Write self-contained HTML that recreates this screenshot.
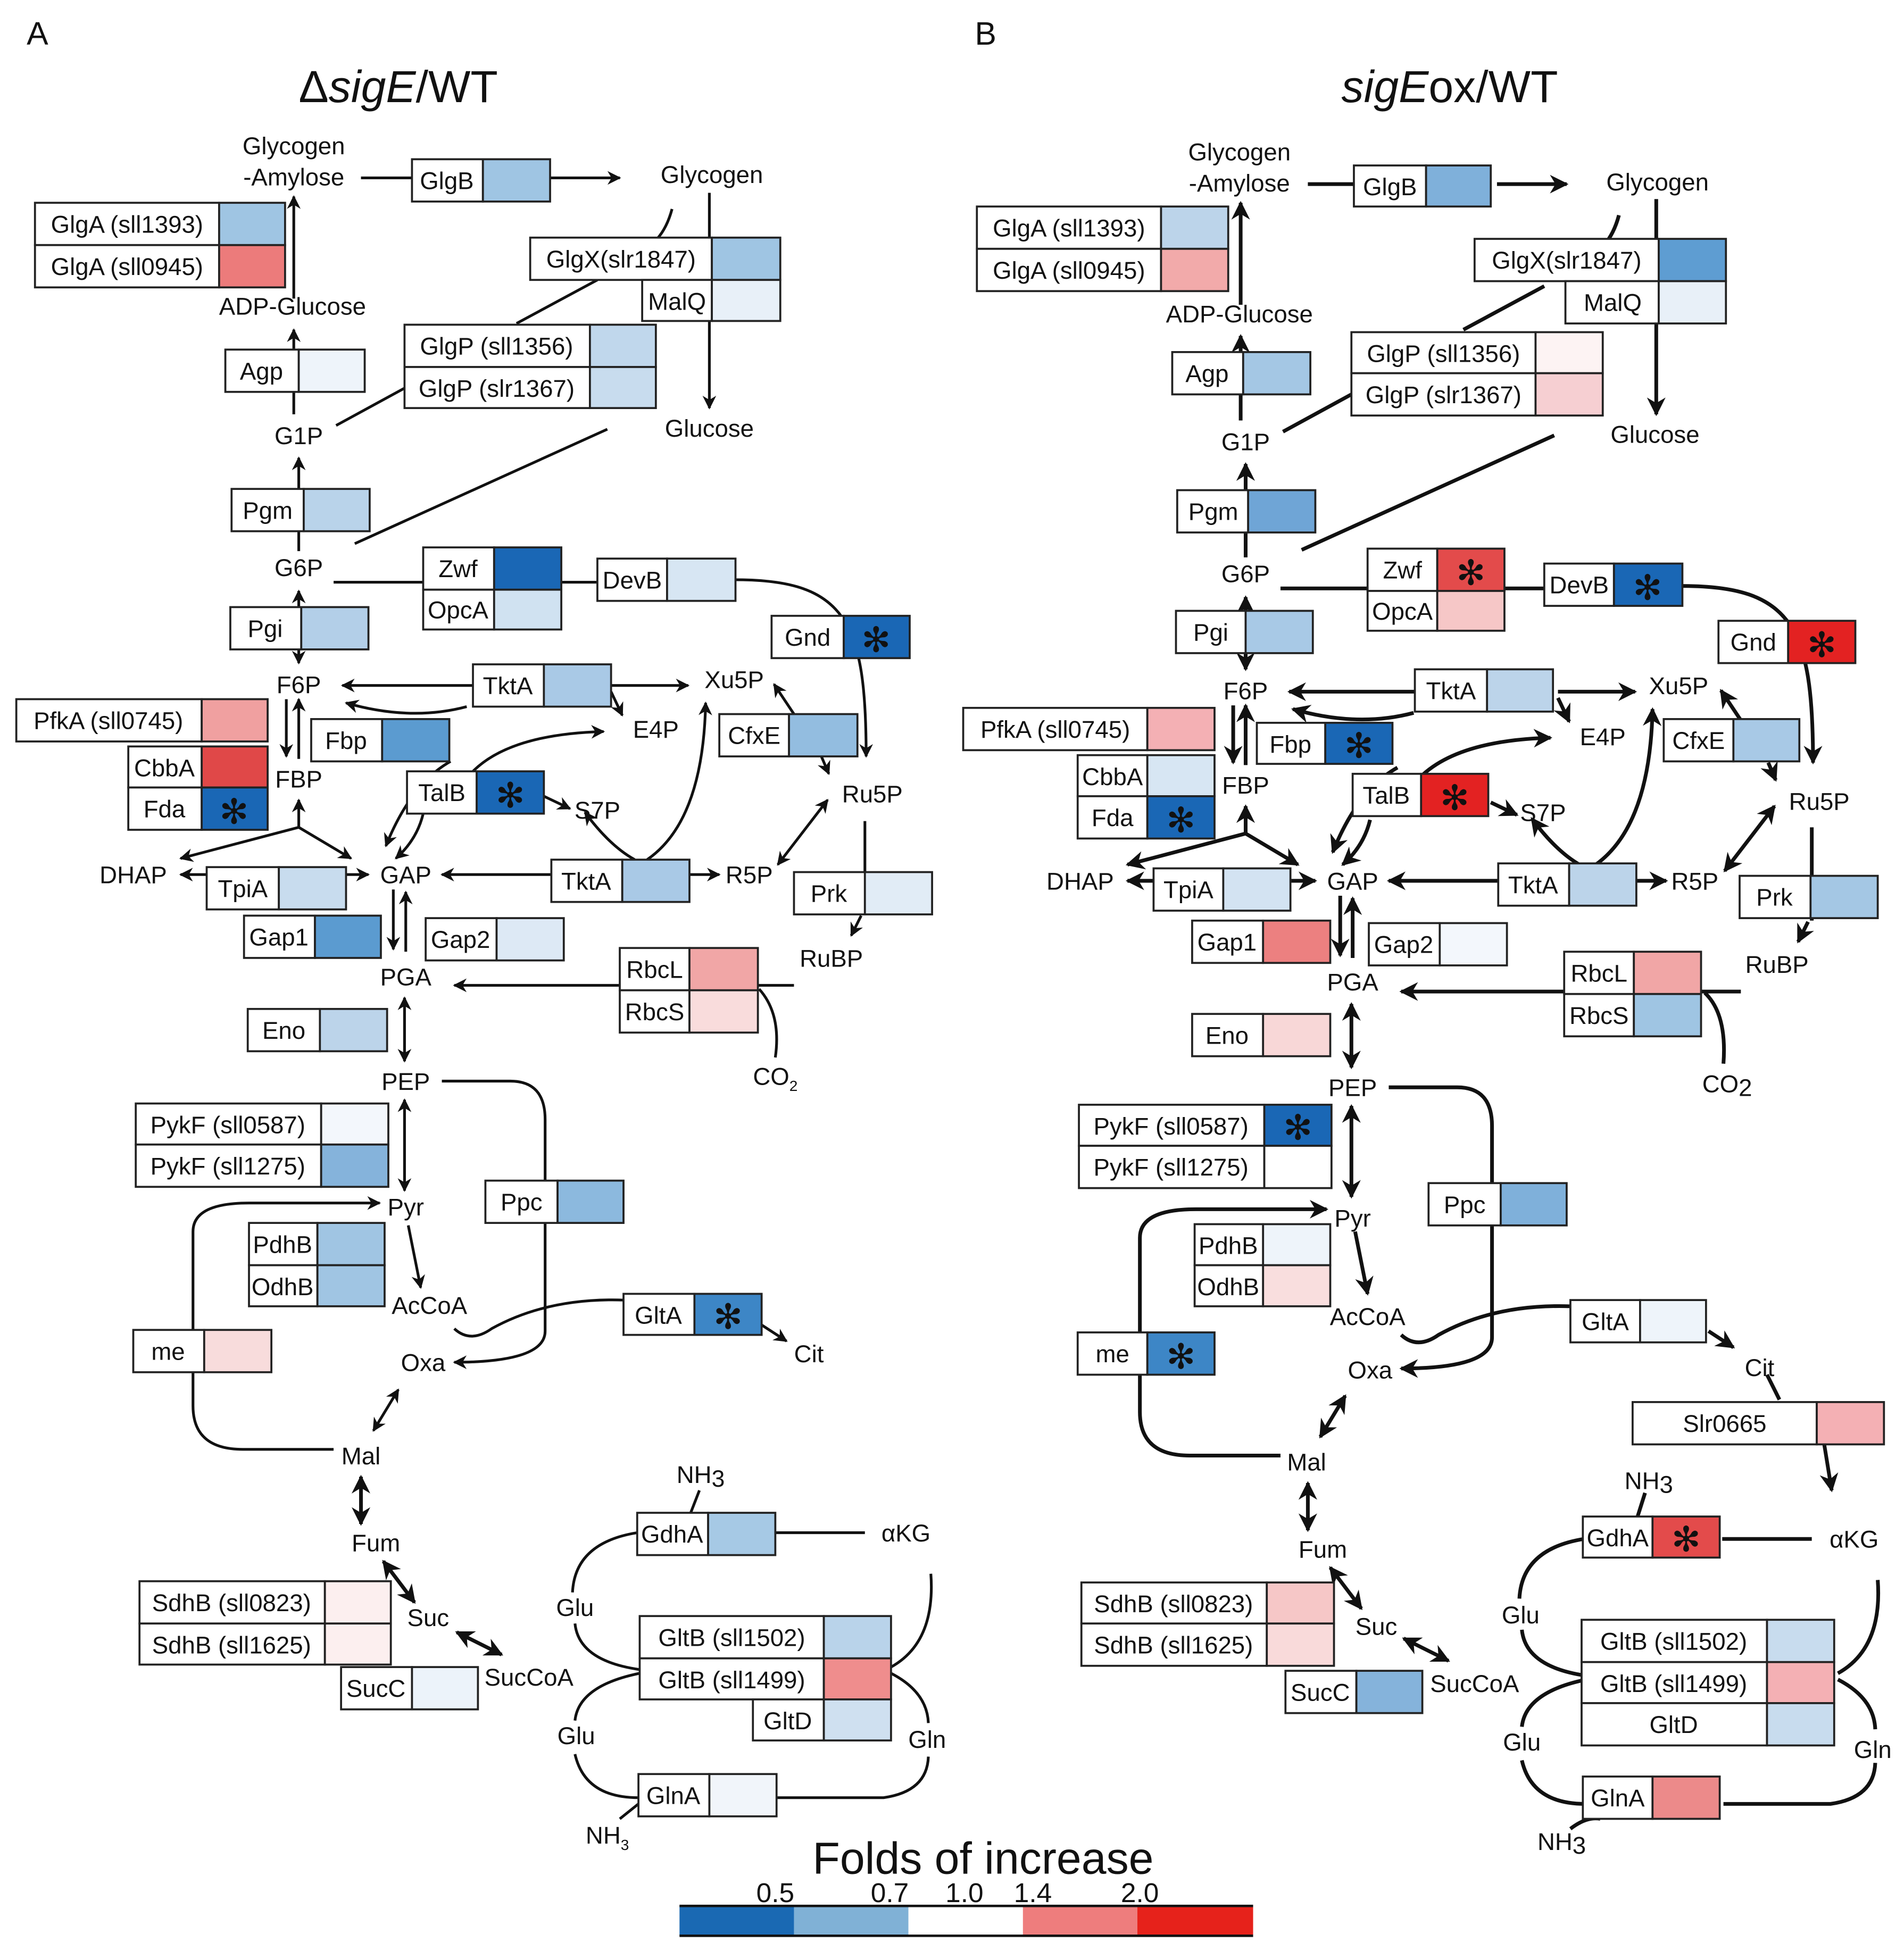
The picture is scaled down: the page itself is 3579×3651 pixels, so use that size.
<!DOCTYPE html>
<html><head><meta charset="utf-8"><style>
html,body{margin:0;padding:0;background:#fff}
svg{display:block}
text{font-family:"Liberation Sans",Arial,sans-serif;font-size:19.5px;fill:#111;text-anchor:middle}
.b{stroke:#222;stroke-width:1.6;fill:#fff}
.c{stroke:#222;stroke-width:1.6}
.st{font-size:28px;font-weight:bold;fill:#111;font-family:"DejaVu Sans",sans-serif}
.ln{fill:none;stroke:#111;stroke-width:2.2}
.lnB{fill:none;stroke:#111;stroke-width:3}
</style></head><body>
<svg width="3579" height="3651" viewBox="0 0 1530 1561" xmlns="http://www.w3.org/2000/svg">
<defs>
<marker id="ar" viewBox="0 0 10 10" refX="9" refY="5" markerWidth="5" markerHeight="5" orient="auto-start-reverse"><path d="M0,0 L10,5 L0,10 L3,5 z" fill="#111"/></marker>
<g id="con">
<path d="M290,143 H331 M442,143 H498" marker-end="url(#ar)"/>
<path d="M236,240 V158" marker-end="url(#ar)"/>
<path d="M236,333 V265" marker-end="url(#ar)"/>
<path d="M270,342 L325,312"/>
<path d="M540,168 Q536,183 528,192"/>
<path d="M570,155 V328" marker-end="url(#ar)"/>
<path d="M415,260 L480,225"/>
<path d="M240,443 V368" marker-end="url(#ar)"/>
<path d="M285,437 L488,345"/>
<path d="M268,468 H480"/>
<path d="M591,466 C680,466 696,500 696,608" marker-end="url(#ar)"/>
<path d="M240,475 V533" marker-start="url(#ar)" marker-end="url(#ar)"/>
<path d="M230,562 V608" marker-end="url(#ar)"/>
<path d="M240,610 V562" marker-end="url(#ar)"/>
<path d="M380,551 H275" marker-end="url(#ar)"/>
<path d="M491,551 H553" marker-end="url(#ar)"/>
<path d="M491,556 L500,575" marker-end="url(#ar)"/>
<path d="M240,665 V643" marker-end="url(#ar)"/>
<path d="M240,665 L145,690" marker-end="url(#ar)"/>
<path d="M240,665 L282,690" marker-end="url(#ar)"/>
<path d="M145,703 H296" marker-start="url(#ar)" marker-end="url(#ar)"/>
<path d="M375,568 Q330,580 278,565" marker-end="url(#ar)"/>
<path d="M362,612 Q330,630 310,680" marker-end="url(#ar)"/>
<path d="M380,620 Q410,590 485,588" marker-end="url(#ar)"/>
<path d="M437,640 L458,650" marker-end="url(#ar)"/>
<path d="M340,654 Q335,675 318,690" marker-end="url(#ar)"/>
<path d="M443,703 H355" marker-end="url(#ar)"/>
<path d="M554,703 H578" marker-end="url(#ar)"/>
<path d="M520,691 Q565,660 567,565" marker-end="url(#ar)"/>
<path d="M510,691 Q490,680 470,653" marker-end="url(#ar)"/>
<path d="M638,574 L622,550" marker-end="url(#ar)"/>
<path d="M660,608 L666,622" marker-end="url(#ar)"/>
<path d="M625,695 L665,643" marker-start="url(#ar)" marker-end="url(#ar)"/>
<path d="M695,660 V735"/>
<path d="M692,736 L684,752" marker-end="url(#ar)"/>
<path d="M638,792 H365" marker-end="url(#ar)"/>
<path d="M316,715 V763" marker-end="url(#ar)"/>
<path d="M326,765 V717" marker-end="url(#ar)"/>
<path d="M325,802 V853" marker-start="url(#ar)" marker-end="url(#ar)"/>
<path d="M325,884 V957" marker-start="url(#ar)" marker-end="url(#ar)"/>
<path d="M355,869 H410 Q438,869 438,900 V1070 Q438,1095 365,1095" marker-end="url(#ar)"/>
<path d="M328,985 L338,1035" marker-end="url(#ar)"/>
<path d="M268,1165 H195 Q155,1165 155,1130 V990 Q155,967 200,967 H305" marker-end="url(#ar)"/>
<path d="M365,1068 Q378,1080 395,1068 Q440,1043 501,1045"/>
<path d="M612,1065 L632,1078" marker-end="url(#ar)"/>
<path d="M320,1117 L300,1150" marker-start="url(#ar)" marker-end="url(#ar)"/>
<path d="M290,1187 V1225" marker-start="url(#ar)" marker-end="url(#ar)" stroke-width="3"/>
<path d="M308,1255 L333,1288" marker-start="url(#ar)" marker-end="url(#ar)" stroke-width="3"/>
<path d="M367,1312 L403,1330" marker-start="url(#ar)" marker-end="url(#ar)" stroke-width="3"/>
<path d="M623,1232 H695"/>
<path d="M512,1232 Q462,1240 460,1280"/>
<path d="M462,1305 Q465,1335 514,1342"/>
<path d="M716,1340 Q752,1320 748,1265"/>
<path d="M514,1345 Q465,1355 462,1383"/>
<path d="M716,1345 Q745,1360 746,1385"/>
<path d="M462,1410 Q470,1445 513,1445"/>
<path d="M624,1445 H710 Q745,1440 746,1412"/>
</g>
</defs>

<!-- headers -->
<text x="30" y="36" style="font-size:26px">A</text>
<text x="792" y="36" style="font-size:26px">B</text>
<text x="320" y="82" style="font-size:36px">Δ<tspan font-style="italic">sigE</tspan>/WT</text>
<text x="1165" y="82" style="font-size:36px"><tspan font-style="italic">sigE</tspan>ox/WT</text>

<!-- connectors -->
<use href="#con" class="ln"/>
<use href="#con" class="lnB" transform="translate(761,5)"/>
<!-- A extra -->
<path class="ln" d="M610,795 Q628,815 623,850"/>
<path class="ln" d="M562,1198 L555,1216"/>
<path class="ln" d="M498,1462 L513,1450"/>
<!-- B extra -->
<path class="lnB" d="M1370,798 Q1388,815 1385,855"/>
<path class="lnB" d="M1322,1200 L1316,1219"/>
<path class="lnB" d="M1262,1470 Q1275,1460 1286,1462"/>
<path class="lnB" d="M1420,1105 L1430,1125"/>
<path class="lnB" d="M1466,1161 L1472,1198" marker-end="url(#ar)"/>

<!-- ========== Panel A boxes ========== -->
<g>
<rect class="b" x="331" y="128" width="57" height="34"/><rect class="c" x="388" y="128" width="54" height="34" fill="#9fc5e3"/><text x="359" y="152">GlgB</text>
<rect class="b" x="28" y="163" width="148" height="34"/><rect class="c" x="176" y="163" width="53" height="34" fill="#9fc5e3"/><text x="102" y="187">GlgA (sll1393)</text>
<rect class="b" x="28" y="197" width="148" height="34"/><rect class="c" x="176" y="197" width="53" height="34" fill="#ec7b7b"/><text x="102" y="221">GlgA (sll0945)</text>
<rect class="b" x="426" y="191" width="146" height="34"/><rect class="c" x="572" y="191" width="55" height="34" fill="#9fc5e3"/><text x="499" y="215">GlgX(slr1847)</text>
<rect class="b" x="516" y="225" width="56" height="33"/><rect class="c" x="572" y="225" width="55" height="33" fill="#e8f0f8"/><text x="544" y="249">MalQ</text>
<rect class="b" x="181" y="281" width="59" height="34"/><rect class="c" x="240" y="281" width="53" height="34" fill="#eef4fa"/><text x="210" y="305">Agp</text>
<rect class="b" x="325" y="261" width="149" height="34"/><rect class="c" x="474" y="261" width="53" height="34" fill="#c0d7ec"/><text x="399" y="285">GlgP (sll1356)</text>
<rect class="b" x="325" y="295" width="149" height="33"/><rect class="c" x="474" y="295" width="53" height="33" fill="#c8dcee"/><text x="399" y="319">GlgP (slr1367)</text>
<rect class="b" x="186" y="393" width="58" height="34"/><rect class="c" x="244" y="393" width="53" height="34" fill="#b9d3ea"/><text x="215" y="417">Pgm</text>
<rect class="b" x="340" y="440" width="57" height="34"/><rect class="c" x="397" y="440" width="54" height="34" fill="#1a67b5"/><text x="368" y="464">Zwf</text>
<rect class="b" x="340" y="474" width="57" height="32"/><rect class="c" x="397" y="474" width="54" height="32" fill="#d0e2f1"/><text x="368" y="497">OpcA</text>
<rect class="b" x="480" y="449" width="56" height="34"/><rect class="c" x="536" y="449" width="55" height="34" fill="#d7e6f3"/><text x="508" y="473">DevB</text>
<rect class="b" x="620" y="495" width="58" height="34"/><rect class="c" x="678" y="495" width="53" height="34" fill="#1a67b5"/><text x="649" y="519">Gnd</text><text class="st" x="704" y="524">✻</text>
<rect class="b" x="185" y="488" width="57" height="34"/><rect class="c" x="242" y="488" width="54" height="34" fill="#b3cfe8"/><text x="213" y="512">Pgi</text>
<rect class="b" x="13" y="562" width="149" height="34"/><rect class="c" x="162" y="562" width="53" height="34" fill="#f0a0a0"/><text x="87" y="586">PfkA (sll0745)</text>
<rect class="b" x="103" y="600" width="59" height="33"/><rect class="c" x="162" y="600" width="53" height="33" fill="#e04848"/><text x="132" y="624">CbbA</text>
<rect class="b" x="103" y="633" width="59" height="34"/><rect class="c" x="162" y="633" width="53" height="34" fill="#1a67b5"/><text x="132" y="657">Fda</text><text class="st" x="188" y="662">✻</text>
<rect class="b" x="250" y="578" width="57" height="34"/><rect class="c" x="307" y="578" width="54" height="34" fill="#5b9bd0"/><text x="278" y="602">Fbp</text>
<rect class="b" x="380" y="534" width="57" height="34"/><rect class="c" x="437" y="534" width="54" height="34" fill="#a9c9e6"/><text x="408" y="558">TktA</text>
<rect class="b" x="578" y="574" width="56" height="34"/><rect class="c" x="634" y="574" width="55" height="34" fill="#93bde0"/><text x="606" y="598">CfxE</text>
<rect class="b" x="327" y="620" width="56" height="34"/><rect class="c" x="383" y="620" width="54" height="34" fill="#1a67b5"/><text x="355" y="644">TalB</text><text class="st" x="410" y="649">✻</text>
<rect class="b" x="166" y="697" width="58" height="34"/><rect class="c" x="224" y="697" width="54" height="34" fill="#c8dcee"/><text x="195" y="721">TpiA</text>
<rect class="b" x="443" y="691" width="57" height="34"/><rect class="c" x="500" y="691" width="54" height="34" fill="#a9c9e6"/><text x="471" y="715">TktA</text>
<rect class="b" x="638" y="701" width="57" height="34"/><rect class="c" x="695" y="701" width="54" height="34" fill="#e1ecf6"/><text x="666" y="725">Prk</text>
<rect class="b" x="196" y="736" width="57" height="34"/><rect class="c" x="253" y="736" width="53" height="34" fill="#5b9bd0"/><text x="224" y="760">Gap1</text>
<rect class="b" x="342" y="738" width="57" height="34"/><rect class="c" x="399" y="738" width="54" height="34" fill="#dde9f5"/><text x="370" y="762">Gap2</text>
<rect class="b" x="498" y="762" width="56" height="34"/><rect class="c" x="554" y="762" width="55" height="34" fill="#f1a6a6"/><text x="526" y="786">RbcL</text>
<rect class="b" x="498" y="796" width="56" height="34"/><rect class="c" x="554" y="796" width="55" height="34" fill="#f9dcdc"/><text x="526" y="820">RbcS</text>
<rect class="b" x="199" y="811" width="58" height="34"/><rect class="c" x="257" y="811" width="54" height="34" fill="#bcd4ea"/><text x="228" y="835">Eno</text>
<rect class="b" x="109" y="887" width="149" height="33"/><rect class="c" x="258" y="887" width="54" height="33" fill="#f3f7fc"/><text x="183" y="911">PykF (sll0587)</text>
<rect class="b" x="109" y="920" width="149" height="34"/><rect class="c" x="258" y="920" width="54" height="34" fill="#85b3db"/><text x="183" y="944">PykF (sll1275)</text>
<rect class="b" x="390" y="949" width="58" height="34"/><rect class="c" x="448" y="949" width="53" height="34" fill="#8cb9de"/><text x="419" y="973">Ppc</text>
<rect class="b" x="200" y="983" width="55" height="34"/><rect class="c" x="255" y="983" width="54" height="34" fill="#a0c5e3"/><text x="227" y="1007">PdhB</text>
<rect class="b" x="200" y="1017" width="55" height="33"/><rect class="c" x="255" y="1017" width="54" height="33" fill="#a0c5e3"/><text x="227" y="1041">OdhB</text>
<rect class="b" x="501" y="1040" width="57" height="33"/><rect class="c" x="558" y="1040" width="54" height="33" fill="#3d86c6"/><text x="529" y="1064">GltA</text><text class="st" x="585" y="1068">✻</text>
<rect class="b" x="107" y="1069" width="57" height="34"/><rect class="c" x="164" y="1069" width="54" height="34" fill="#f8dcdc"/><text x="135" y="1093">me</text>
<rect class="b" x="112" y="1271" width="149" height="34"/><rect class="c" x="261" y="1271" width="53" height="34" fill="#fcefef"/><text x="186" y="1295">SdhB (sll0823)</text>
<rect class="b" x="112" y="1305" width="149" height="33"/><rect class="c" x="261" y="1305" width="53" height="33" fill="#fcefef"/><text x="186" y="1329">SdhB (sll1625)</text>
<rect class="b" x="274" y="1340" width="57" height="34"/><rect class="c" x="331" y="1340" width="53" height="34" fill="#ecf3fa"/><text x="302" y="1364">SucC</text>
<rect class="b" x="512" y="1216" width="57" height="34"/><rect class="c" x="569" y="1216" width="54" height="34" fill="#a6c9e5"/><text x="540" y="1240">GdhA</text>
<rect class="b" x="514" y="1299" width="148" height="34"/><rect class="c" x="662" y="1299" width="54" height="34" fill="#b9d3ea"/><text x="588" y="1323">GltB (sll1502)</text>
<rect class="b" x="514" y="1333" width="148" height="33"/><rect class="c" x="662" y="1333" width="54" height="33" fill="#ef8d8d"/><text x="588" y="1357">GltB (sll1499)</text>
<rect class="b" x="605" y="1366" width="57" height="33"/><rect class="c" x="662" y="1366" width="54" height="33" fill="#cfe0f0"/><text x="633" y="1390">GltD</text>
<rect class="b" x="513" y="1426" width="57" height="34"/><rect class="c" x="570" y="1426" width="54" height="34" fill="#f1f5fa"/><text x="541" y="1450">GlnA</text>
</g>
<!-- A metabolites -->
<g>
<text x="236" y="124">Glycogen</text><text x="236" y="149">-Amylose</text>
<text x="572" y="147">Glycogen</text><text x="235" y="253">ADP-Glucose</text>
<text x="240" y="357">G1P</text><text x="570" y="351">Glucose</text>
<text x="240" y="463">G6P</text><text x="240" y="557">F6P</text><text x="240" y="633">FBP</text>
<text x="590" y="553">Xu5P</text><text x="527" y="593">E4P</text><text x="480" y="658">S7P</text>
<text x="701" y="645">Ru5P</text><text x="326" y="710">GAP</text><text x="107" y="710">DHAP</text>
<text x="602" y="710">R5P</text><text x="668" y="777">RuBP</text><text x="326" y="792">PGA</text>
<text x="623" y="872">CO<tspan font-size="12" dy="5">2</tspan></text>
<text x="326" y="876">PEP</text><text x="326" y="977">Pyr</text><text x="345" y="1056">AcCoA</text>
<text x="650" y="1095">Cit</text><text x="340" y="1102">Oxa</text><text x="290" y="1177">Mal</text>
<text x="302" y="1247">Fum</text><text x="344" y="1307">Suc</text><text x="425" y="1355">SucCoA</text>
<text x="563" y="1192">NH<tspan font-size="19" dy="3">3</tspan></text><text x="728" y="1239">αKG</text>
<text x="462" y="1299">Glu</text><text x="463" y="1402">Glu</text><text x="745" y="1405">Gln</text>
<text x="488" y="1482">NH<tspan font-size="12" dy="5">3</tspan></text>
</g>

<!-- ========== Panel B boxes ========== -->
<g>
<rect class="b" x="1088" y="133" width="58" height="33"/><rect class="c" x="1146" y="133" width="52" height="33" fill="#7fb0da"/><text x="1117" y="157">GlgB</text>
<rect class="b" x="785" y="166" width="148" height="34"/><rect class="c" x="933" y="166" width="54" height="34" fill="#bcd4ea"/><text x="859" y="190">GlgA (sll1393)</text>
<rect class="b" x="785" y="200" width="148" height="34"/><rect class="c" x="933" y="200" width="54" height="34" fill="#f2aaaa"/><text x="859" y="224">GlgA (sll0945)</text>
<rect class="b" x="1185" y="192" width="148" height="34"/><rect class="c" x="1333" y="192" width="54" height="34" fill="#5e9dd2"/><text x="1259" y="216">GlgX(slr1847)</text>
<rect class="b" x="1258" y="226" width="75" height="34"/><rect class="c" x="1333" y="226" width="54" height="34" fill="#e8f0f8"/><text x="1296" y="250">MalQ</text>
<rect class="b" x="942" y="283" width="57" height="34"/><rect class="c" x="999" y="283" width="54" height="34" fill="#a4c7e4"/><text x="970" y="307">Agp</text>
<rect class="b" x="1086" y="267" width="148" height="33"/><rect class="c" x="1234" y="267" width="54" height="33" fill="#fdf3f3"/><text x="1160" y="291">GlgP (sll1356)</text>
<rect class="b" x="1086" y="300" width="148" height="34"/><rect class="c" x="1234" y="300" width="54" height="34" fill="#f6cfd2"/><text x="1160" y="324">GlgP (slr1367)</text>
<rect class="b" x="946" y="394" width="57" height="34"/><rect class="c" x="1003" y="394" width="54" height="34" fill="#6fa5d6"/><text x="975" y="418">Pgm</text>
<rect class="b" x="1099" y="441" width="56" height="34"/><rect class="c" x="1155" y="441" width="54" height="34" fill="#e34b4b"/><text x="1127" y="465">Zwf</text><text class="st" x="1182" y="470">✻</text>
<rect class="b" x="1099" y="475" width="56" height="32"/><rect class="c" x="1155" y="475" width="54" height="32" fill="#f6c7c7"/><text x="1127" y="498">OpcA</text>
<rect class="b" x="1241" y="453" width="56" height="34"/><rect class="c" x="1297" y="453" width="55" height="34" fill="#1a67b5"/><text x="1269" y="477">DevB</text><text class="st" x="1324" y="482">✻</text>
<rect class="b" x="1381" y="499" width="56" height="34"/><rect class="c" x="1437" y="499" width="54" height="34" fill="#e32222"/><text x="1409" y="523">Gnd</text><text class="st" x="1464" y="528">✻</text>
<rect class="b" x="945" y="491" width="56" height="34"/><rect class="c" x="1001" y="491" width="54" height="34" fill="#a8c9e6"/><text x="973" y="515">Pgi</text>
<rect class="b" x="774" y="569" width="148" height="34"/><rect class="c" x="922" y="569" width="54" height="34" fill="#f4b0b4"/><text x="848" y="593">PfkA (sll0745)</text>
<rect class="b" x="1137" y="538" width="58" height="34"/><rect class="c" x="1195" y="538" width="53" height="34" fill="#bcd4ea"/><text x="1166" y="562">TktA</text>
<rect class="b" x="1010" y="581" width="55" height="33"/><rect class="c" x="1065" y="581" width="54" height="33" fill="#1a67b5"/><text x="1037" y="605">Fbp</text><text class="st" x="1092" y="609">✻</text>
<rect class="b" x="1337" y="578" width="56" height="34"/><rect class="c" x="1393" y="578" width="53" height="34" fill="#a8c9e6"/><text x="1365" y="602">CfxE</text>
<rect class="b" x="866" y="607" width="56" height="33"/><rect class="c" x="922" y="607" width="54" height="33" fill="#d7e6f3"/><text x="894" y="631">CbbA</text>
<rect class="b" x="866" y="640" width="56" height="34"/><rect class="c" x="922" y="640" width="54" height="34" fill="#1a67b5"/><text x="894" y="664">Fda</text><text class="st" x="949" y="669">✻</text>
<rect class="b" x="1087" y="622" width="55" height="34"/><rect class="c" x="1142" y="622" width="54" height="34" fill="#e32222"/><text x="1114" y="646">TalB</text><text class="st" x="1169" y="651">✻</text>
<rect class="b" x="927" y="698" width="56" height="34"/><rect class="c" x="983" y="698" width="54" height="34" fill="#d3e3f2"/><text x="955" y="722">TpiA</text>
<rect class="b" x="1204" y="694" width="57" height="34"/><rect class="c" x="1261" y="694" width="54" height="34" fill="#bcd4ea"/><text x="1232" y="718">TktA</text>
<rect class="b" x="1398" y="704" width="57" height="34"/><rect class="c" x="1455" y="704" width="54" height="34" fill="#a4c7e4"/><text x="1426" y="728">Prk</text>
<rect class="b" x="958" y="740" width="57" height="34"/><rect class="c" x="1015" y="740" width="54" height="34" fill="#ec8080"/><text x="986" y="764">Gap1</text>
<rect class="b" x="1100" y="742" width="57" height="34"/><rect class="c" x="1157" y="742" width="54" height="34" fill="#f3f7fc"/><text x="1128" y="766">Gap2</text>
<rect class="b" x="1257" y="765" width="56" height="34"/><rect class="c" x="1313" y="765" width="54" height="34" fill="#f1a6a6"/><text x="1285" y="789">RbcL</text>
<rect class="b" x="1257" y="799" width="56" height="34"/><rect class="c" x="1313" y="799" width="54" height="34" fill="#9fc5e3"/><text x="1285" y="823">RbcS</text>
<rect class="b" x="958" y="815" width="57" height="34"/><rect class="c" x="1015" y="815" width="54" height="34" fill="#f8d7d7"/><text x="986" y="839">Eno</text>
<rect class="b" x="867" y="888" width="149" height="33"/><rect class="c" x="1016" y="888" width="54" height="33" fill="#1a67b5"/><text x="941" y="912">PykF (sll0587)</text><text class="st" x="1043" y="916">✻</text>
<rect class="b" x="867" y="921" width="149" height="34"/><rect class="c" x="1016" y="921" width="54" height="34" fill="#ffffff"/><text x="941" y="945">PykF (sll1275)</text>
<rect class="b" x="1148" y="951" width="58" height="34"/><rect class="c" x="1206" y="951" width="53" height="34" fill="#7fb0da"/><text x="1177" y="975">Ppc</text>
<rect class="b" x="960" y="984" width="55" height="33"/><rect class="c" x="1015" y="984" width="54" height="33" fill="#eef4fa"/><text x="987" y="1008">PdhB</text>
<rect class="b" x="960" y="1017" width="55" height="33"/><rect class="c" x="1015" y="1017" width="54" height="33" fill="#f9dede"/><text x="987" y="1041">OdhB</text>
<rect class="b" x="1262" y="1045" width="56" height="34"/><rect class="c" x="1318" y="1045" width="53" height="34" fill="#eef4fa"/><text x="1290" y="1069">GltA</text>
<rect class="b" x="866" y="1071" width="56" height="34"/><rect class="c" x="922" y="1071" width="54" height="34" fill="#3d86c6"/><text x="894" y="1095">me</text><text class="st" x="949" y="1100">✻</text>
<rect class="b" x="1312" y="1127" width="148" height="34"/><rect class="c" x="1460" y="1127" width="54" height="34" fill="#f4b0b4"/><text x="1386" y="1151">Slr0665</text>
<rect class="b" x="1272" y="1219" width="56" height="33"/><rect class="c" x="1328" y="1219" width="54" height="33" fill="#e34b4b"/><text x="1300" y="1243">GdhA</text><text class="st" x="1355" y="1247">✻</text>
<rect class="b" x="869" y="1272" width="149" height="33"/><rect class="c" x="1018" y="1272" width="54" height="33" fill="#f6c7c7"/><text x="943" y="1296">SdhB (sll0823)</text>
<rect class="b" x="869" y="1305" width="149" height="34"/><rect class="c" x="1018" y="1305" width="54" height="34" fill="#f9dada"/><text x="943" y="1329">SdhB (sll1625)</text>
<rect class="b" x="1033" y="1343" width="57" height="34"/><rect class="c" x="1090" y="1343" width="53" height="34" fill="#85b3db"/><text x="1061" y="1367">SucC</text>
<rect class="b" x="1271" y="1302" width="149" height="34"/><rect class="c" x="1420" y="1302" width="54" height="34" fill="#c8dcee"/><text x="1345" y="1326">GltB (sll1502)</text>
<rect class="b" x="1271" y="1336" width="149" height="33"/><rect class="c" x="1420" y="1336" width="54" height="33" fill="#f4b0b4"/><text x="1345" y="1360">GltB (sll1499)</text>
<rect class="b" x="1271" y="1369" width="149" height="34"/><rect class="c" x="1420" y="1369" width="54" height="34" fill="#c8dcee"/><text x="1345" y="1393">GltD</text>
<rect class="b" x="1272" y="1428" width="56" height="34"/><rect class="c" x="1328" y="1428" width="54" height="34" fill="#ec8a8a"/><text x="1300" y="1452">GlnA</text>
</g>
<!-- B metabolites -->
<g>
<text x="996" y="129">Glycogen</text><text x="996" y="154">-Amylose</text>
<text x="1332" y="153">Glycogen</text><text x="996" y="259">ADP-Glucose</text>
<text x="1001" y="362">G1P</text><text x="1330" y="356">Glucose</text>
<text x="1001" y="468">G6P</text><text x="1001" y="562">F6P</text><text x="1001" y="638">FBP</text>
<text x="1349" y="558">Xu5P</text><text x="1288" y="599">E4P</text><text x="1240" y="660">S7P</text>
<text x="1462" y="651">Ru5P</text><text x="1087" y="715">GAP</text><text x="868" y="715">DHAP</text>
<text x="1362" y="715">R5P</text><text x="1428" y="782">RuBP</text><text x="1087" y="796">PGA</text>
<text x="1388" y="878">CO<tspan dy="3">2</tspan></text>
<text x="1087" y="881">PEP</text><text x="1087" y="986">Pyr</text><text x="1099" y="1065">AcCoA</text>
<text x="1414" y="1106">Cit</text><text x="1101" y="1108">Oxa</text><text x="1050" y="1182">Mal</text>
<text x="1063" y="1252">Fum</text><text x="1106" y="1314">Suc</text><text x="1185" y="1360">SucCoA</text>
<text x="1325" y="1197">NH<tspan dy="3">3</tspan></text><text x="1490" y="1244">αKG</text>
<text x="1222" y="1305">Glu</text><text x="1223" y="1407">Glu</text><text x="1505" y="1413">Gln</text>
<text x="1255" y="1487">NH<tspan dy="3">3</tspan></text>
</g>

<!-- Legend -->
<text x="790" y="1506" style="font-size:36px">Folds of increase</text>
<text x="623" y="1529" style="font-size:22px">0.5</text>
<text x="715" y="1529" style="font-size:22px">0.7</text>
<text x="775" y="1529" style="font-size:22px">1.0</text>
<text x="830" y="1529" style="font-size:22px">1.4</text>
<text x="916" y="1529" style="font-size:22px">2.0</text>
<rect x="546" y="1532" width="92" height="24" fill="#1a69b3"/>
<rect x="638" y="1532" width="92" height="24" fill="#80b1d6"/>
<rect x="730" y="1532" width="92" height="24" fill="#ffffff"/>
<rect x="822" y="1532" width="92" height="24" fill="#ee7d7d"/>
<rect x="914" y="1532" width="93" height="24" fill="#e6221b"/>
<line x1="546" y1="1532" x2="1007" y2="1532" stroke="#111" stroke-width="2"/>
<line x1="546" y1="1556" x2="1007" y2="1556" stroke="#111" stroke-width="2"/>
</svg>
</body></html>
